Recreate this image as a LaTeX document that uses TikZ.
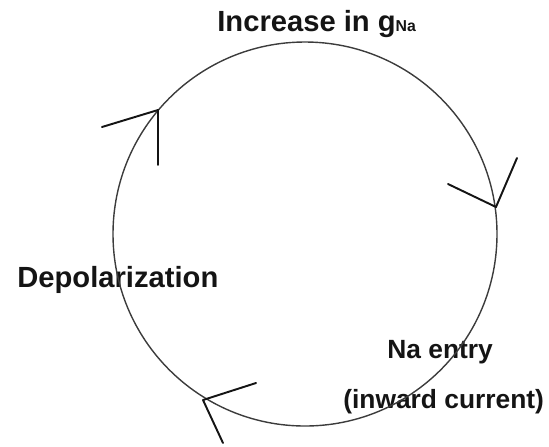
\documentclass[tikz,border=0pt]{standalone}
\usepackage{fontspec}
\setmainfont{Liberation Sans}
\usepackage{xcolor}
\usepackage{tikz}
\definecolor{cycInk}{HTML}{141414}
\definecolor{cycRing}{HTML}{3C3C3C}
\tikzset{
  cyc/label/.style   = {font=\fontsize{16.6}{18}\selectfont\bfseries, text=cycInk,
                        inner sep=0pt, anchor=base west},
  cyc/labelsm/.style = {cyc/label, font=\fontsize{15}{17}\selectfont\bfseries},
  cyc/ring/.style    = {draw=cycRing, line width=0.8pt},
  cyc/barb/.style    = {draw=cycInk, line width=1.1pt, line cap=round, line join=round},
}
\begin{document}
\begin{tikzpicture}[x=0.2mm, y=-0.2mm]
      \useasboundingbox (0,0) rectangle (549,446);
      % labels
      \node[cyc/label] (gna) at (217, 31)
            {Increase in g{\fontsize{9}{10}\selectfont Na}};
      \node[cyc/label] (depol) at (17, 287) {Depolarization};
      \node[cyc/labelsm] (entry) at (387, 358) {Na entry};
      \node[cyc/labelsm] (inward) at (343, 408) {(inward current)};
      % ring
      \coordinate (ctr) at (305, 234);
      \draw[cyc/ring] (ctr) circle[radius=192];
      % arrow tips on the ring
      \coordinate (tipA) at (158, 110);
      \coordinate (tipB) at (496, 207);
      \coordinate (tipC) at (203, 400);
      \coordinate (barbA1) at (102, 127);
      \coordinate (barbA2) at (158, 165);
      \coordinate (barbB1) at (448, 184);
      \coordinate (barbB2) at (517, 158);
      \coordinate (barbC1) at (256, 383);
      \coordinate (barbC2) at (223, 443);
      % arrows
      \draw[cyc/barb] (barbA1) -- (tipA) -- (barbA2);
      \draw[cyc/barb] (barbB1) -- (tipB) -- (barbB2);
      \draw[cyc/barb] (barbC1) -- (tipC) -- (barbC2);
    \end{tikzpicture}
\end{document}
